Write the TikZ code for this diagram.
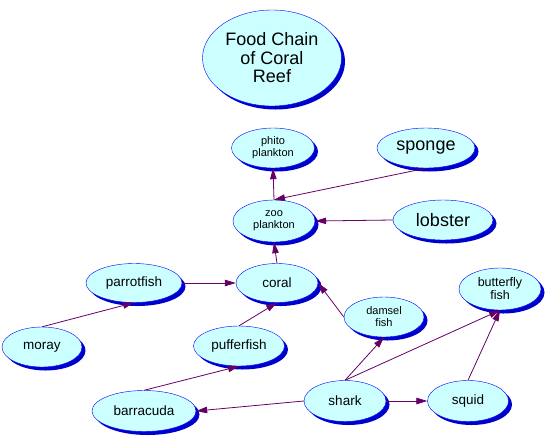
\documentclass[tikz,border=0pt]{standalone}
\usepackage{fontspec}
\setmainfont{Liberation Sans}
\usetikzlibrary{shapes.geometric, shadows, arrows.meta}
\definecolor{reefcyan}{HTML}{CCFFFF}
\definecolor{reefblue}{HTML}{0000FF}
\definecolor{reefshadow}{HTML}{0000CC}
\definecolor{reefpurple}{HTML}{660066}
\begin{document}
\begin{tikzpicture}[
    x=1pt, y=-1pt,
    organism/.style={ellipse, draw=reefblue, thin, fill=reefcyan, inner sep=0pt,
        align=center, font=\fontsize{13.5}{14}\selectfont,
        minimum width=82pt, minimum height=41pt,
        drop shadow={shadow xshift=3.5pt, shadow yshift=-3.5pt, fill=reefshadow, opacity=1}},
    small/.style={font=\fontsize{11}{12}\selectfont},
    big/.style={font=\fontsize{18}{18.5}\selectfont},
    feeds/.style={draw=reefpurple, line width=0.8pt, -{Triangle[length=11pt, width=6.5pt]}}
]
\useasboundingbox (0,0) rectangle (546,437);
% title
\node[organism, big, minimum width=139pt, minimum height=96pt] (title) at (272,58) {Food Chain\\of Coral\\Reef};
% plankton and the top of the chain
\node[organism, small, minimum width=83pt, minimum height=40pt] (phito) at (273,148) {phito\\plankton};
\node[organism, big, minimum width=98pt, minimum height=40pt] (sponge) at (426,148) {sponge};
\node[organism, small, minimum height=42pt] (zoo) at (274,221) {zoo\\plankton};
\node[organism, big, minimum width=100pt, minimum height=40pt] (lobster) at (443,220) {lobster};
% reef fish
\node[organism, minimum width=96pt, minimum height=39pt] (parrotfish) at (134,283) {parrotfish};
\node[organism, minimum height=39pt] (coral) at (277,283) {coral};
\node[organism, minimum width=80pt, minimum height=40pt] (moray) at (42,347) {moray};
\node[organism, minimum width=91pt, minimum height=40pt] (pufferfish) at (239,346) {pufferfish};
\node[organism, small, minimum width=80pt, minimum height=40pt] (damsel) at (384,317) {damsel\\fish};
\node[organism, font=\fontsize{12.5}{13}\selectfont, minimum height=42pt] (butterfly) at (500,289) {butterfly\\fish};
% predators
\node[organism, minimum width=104pt] (barracuda) at (144,411) {barracuda};
\node[organism] (shark) at (345,401) {shark};
\node[organism, minimum width=81pt] (squid) at (468,401) {squid};
% who eats whom
\draw[feeds] (zoo.north) -- (phito.south);
\draw[feeds] (sponge.south) -- (zoo.north);
\draw[feeds] (lobster.west) -- (zoo.east);
\draw[feeds] (coral.north) -- (zoo.south);
\draw[feeds] (parrotfish.east) -- (coral.west);
\draw[feeds] (moray.north) -- (parrotfish.south);
\draw[feeds] (pufferfish.north) -- (coral.south);
\draw[feeds] (damsel.west) -- (coral.east);
\draw[feeds] (barracuda.north) -- (pufferfish.south);
\draw[feeds] (shark.west) -- (barracuda.east);
\draw[feeds] (shark.north) -- (damsel.south);
\draw[feeds] (shark.north) -- (butterfly.south);
\draw[feeds] (shark.east) -- (squid.west);
\draw[feeds] (squid.north) -- (butterfly.south);
\end{tikzpicture}
\end{document}
